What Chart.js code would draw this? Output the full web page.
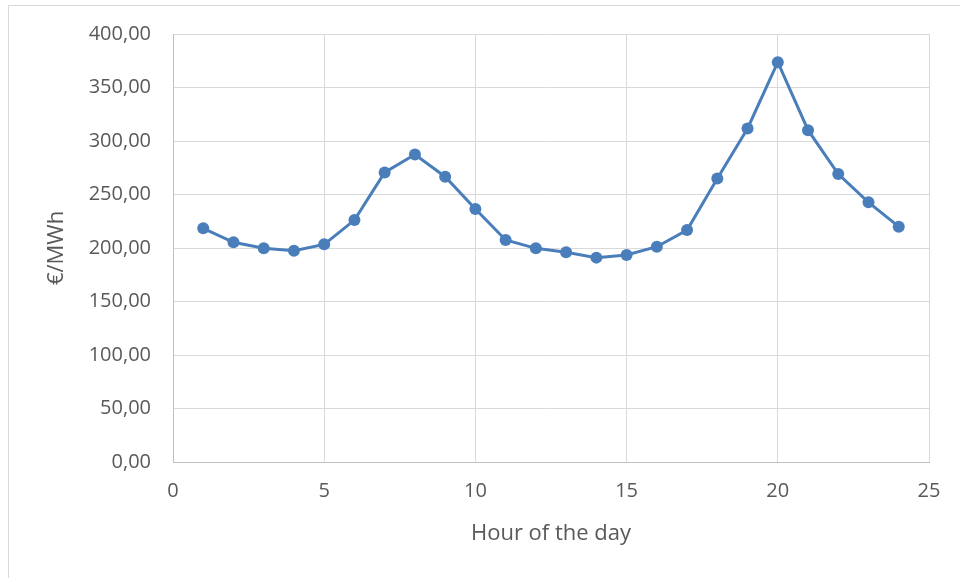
<!DOCTYPE html>
<html lang="en">
<head>
    <meta charset="UTF-8">
    <title>Hourly price</title>
    <script src="https://cdn.jsdelivr.net/npm/chart.js"></script>
    <style>
        body {
            margin: 0;
            padding: 0;
            background: #ffffff;
            overflow: hidden;
        }

        .wrap {
            position: relative;
            width: 960px;
            height: 578px;
        }

        .frame {
            position: absolute;
            left: 8px;
            top: 5px;
            right: -4px;
            bottom: -4px;
            border: 1px solid #d9d9d9;
            pointer-events: none;
        }
    </style>
</head>
<body>
    <div class="wrap">
        <canvas id="priceChart" width="960" height="578"></canvas>
        <div class="frame"></div>
    </div>

    <script>
        // hour of the day and price (EUR/MWh)
        const hours = [1, 2, 3, 4, 5, 6, 7, 8, 9, 10, 11, 12, 13, 14, 15, 16, 17, 18, 19, 20, 21, 22, 23, 24];
        const prices = [218.4, 205.3, 199.7, 197.5, 203.4, 226.1, 270.6, 287.4, 266.6, 236.4, 207.5, 199.7,
                        196.0, 191.0, 193.5, 201.2, 216.8, 265.0, 311.7, 373.6, 310.1, 269.1, 242.7, 219.9];

        // axis ranges / tick steps
        const xRange = [0, 25];
        const xStep = 5;
        const yRange = [0, 400];
        const yStep = 50;

        const points = hours.map((h, i) => ({ x: h, y: prices[i] }));

        const tickFont = { family: "'Open Sans', sans-serif", size: 20 };
        const titleFont = { family: "'Open Sans', sans-serif", size: 22 };
        const textColor = '#595959';

        const ctx = document.getElementById('priceChart').getContext('2d');
        new Chart(ctx, {
            type: 'line',
            data: {
                datasets: [{
                    data: points,
                    borderColor: '#4a7ebb',
                    backgroundColor: '#4a7ebb',
                    borderWidth: 3,
                    pointRadius: 6,
                    pointBorderWidth: 0,
                    tension: 0
                }]
            },
            options: {
                responsive: false,
                animation: false,
                layout: {
                    padding: { left: 0, top: 34, right: 31, bottom: 0 }
                },
                plugins: {
                    legend: { display: false },
                    tooltip: { enabled: false }
                },
                scales: {
                    x: {
                        type: 'linear',
                        min: xRange[0],
                        max: xRange[1],
                        ticks: {
                            stepSize: xStep,
                            color: textColor,
                            font: tickFont,
                            padding: 17
                        },
                        grid: { color: '#d9d9d9', drawTicks: false },
                        border: { color: '#bfbfbf' },
                        title: {
                            display: true,
                            text: 'Hour of the day',
                            color: textColor,
                            font: titleFont,
                            padding: { top: 4, bottom: 31 }
                        },
                        afterFit: (scale) => { scale.height = 116; }
                    },
                    y: {
                        min: yRange[0],
                        max: yRange[1],
                        ticks: {
                            stepSize: yStep,
                            color: textColor,
                            font: tickFont,
                            padding: 22,
                            callback: (v) => v.toFixed(2).replace('.', ',')
                        },
                        grid: { color: '#d9d9d9', drawTicks: false },
                        border: { color: '#bfbfbf' },
                        title: {
                            display: true,
                            text: '€/MWh',
                            color: textColor,
                            font: titleFont,
                            padding: { top: 44, bottom: 4 }
                        },
                        afterFit: (scale) => { scale.width = 173; }
                    }
                }
            }
        });
    </script>
</body>
</html>
